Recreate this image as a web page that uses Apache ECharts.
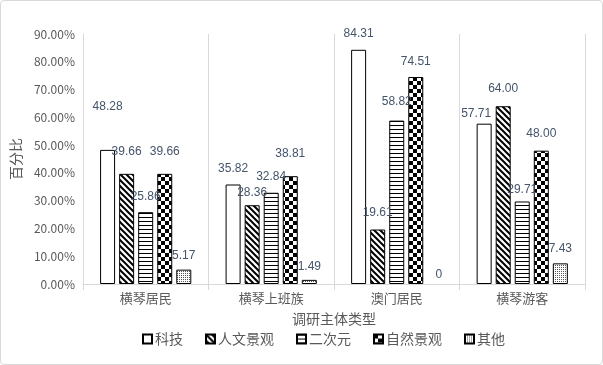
<!DOCTYPE html>
<html><head><meta charset="utf-8">
<script src="https://cdn.jsdelivr.net/npm/echarts@6/dist/echarts.min.js"></script>
<style>html,body{margin:0;padding:0;background:#fff}#c{position:absolute;left:0;top:0;width:601px;height:363px;border:1px solid #d9d9d9;border-radius:4px}</style>
</head><body><div id="c"></div>
<script>
const categories = ['横琴居民', '横琴上班族', '澳门居民', '横琴游客'];
const seriesNames = ['科技', '人文景观', '二次元', '自然景观', '其他'];
const keji = [48.28, 35.82, 84.31, 57.71];
const renwen = [39.66, 28.36, 19.61, 64.00];
const erciyuan = [25.86, 32.84, 58.82, 29.71];
const ziran = [39.66, 38.81, 74.51, 48.00];
const qita = [5.17, 1.49, 0, 7.43];
const yTicks = [0, 10, 20, 30, 40, 50, 60, 70, 80, 90];
// label distance above bar (px) per series per category
const labelDist = [[37, 10, 10, 4], [16, 7, 11, 12], [9, 10, 13, 6], [16, 17, 9, 11], [8, 7, 3, 9]];
const labelDx = [[0, 0, 0, -8], [0, 0, 0, 0], [0, 0, 0, 0], [0, 0, 0, 0], [0, 0, 4, 0]];

function mk(w, h, draw) { const c = document.createElement('canvas'); c.width = w; c.height = h; const g = c.getContext('2d'); g.fillStyle = '#fff'; g.fillRect(0, 0, w, h); g.fillStyle = '#000'; draw(g); return { image: c, repeat: 'repeat' }; }
const patterns = [
  '#ffffff',
  mk(6, 6, g => { g.strokeStyle = '#000'; g.lineWidth = 2; g.beginPath(); g.moveTo(-1, -1); g.lineTo(7, 7); g.moveTo(-4, 2); g.lineTo(2, 8); g.moveTo(4, -2); g.lineTo(8, 2); g.stroke(); }),
  mk(4, 4, g => { g.fillRect(0, 0, 4, 1); }),
  mk(8, 8, g => { g.fillRect(0, 0, 4, 4); g.fillRect(4, 4, 4, 4); }),
  mk(2, 2, g => { g.fillStyle = '#555'; g.fillRect(0, 0, 1, 1); })
];
const values = [keji, renwen, erciyuan, ziran, qita];
const chart = echarts.init(document.getElementById('c'));
const txt = '#595959';
chart.setOption({
  animation: false,
  textStyle: { fontFamily: '"Noto Sans CJK SC", "Liberation Sans", sans-serif' },
  grid: { left: 81, right: 17, top: 33, bottom: 80 },
  legend: {
    bottom: 13, left: 136, itemWidth: 9, itemHeight: 9, itemGap: 22, icon: 'rect',
    textStyle: { color: txt, fontSize: 14, padding: [0, 0, 0, -2] },
    data: seriesNames
  },
  xAxis: {
    type: 'category', data: categories,
    name: '调研主体类型', nameLocation: 'middle', nameGap: 28,
    nameTextStyle: { color: txt, fontSize: 14 },
    axisLine: { lineStyle: { color: '#d9d9d9' } },
    axisTick: { show: true, length: 6, lineStyle: { color: '#d9d9d9' } },
    splitLine: { show: true, lineStyle: { color: '#d9d9d9' } },
    axisLabel: { color: txt, fontSize: 13, margin: 8 }
  },
  yAxis: {
    type: 'value', min: 0, max: 90, interval: 10,
    name: '百分比', nameLocation: 'middle', nameGap: 53, nameRotate: 90,
    nameTextStyle: { color: txt, fontSize: 14 },
    axisLine: { show: true, lineStyle: { color: '#d9d9d9' } },
    axisTick: { show: false },
    splitLine: { show: false },
    axisLabel: { color: txt, fontSize: 12, margin: 8, formatter: v => v.toFixed(2) + '%' }
  },
  series: values.map((arr, si) => ({
    name: seriesNames[si], type: 'bar', barWidth: 15, barGap: '27%',
    itemStyle: { color: patterns[si], borderColor: '#000', borderWidth: 1 },
    data: arr.map((v, ci) => ({
      value: v,
      itemStyle: v === 0 ? { borderWidth: 0 } : undefined,
      label: { show: true, position: 'top', distance: labelDist[si][ci], offset: [labelDx[si][ci], 0], color: '#44546a', fontSize: 12, fontFamily: '"Liberation Sans", sans-serif',
        formatter: p => p.value === 0 ? '0' : p.value.toFixed(2) }
    }))
  }))
});
</script></body></html>
